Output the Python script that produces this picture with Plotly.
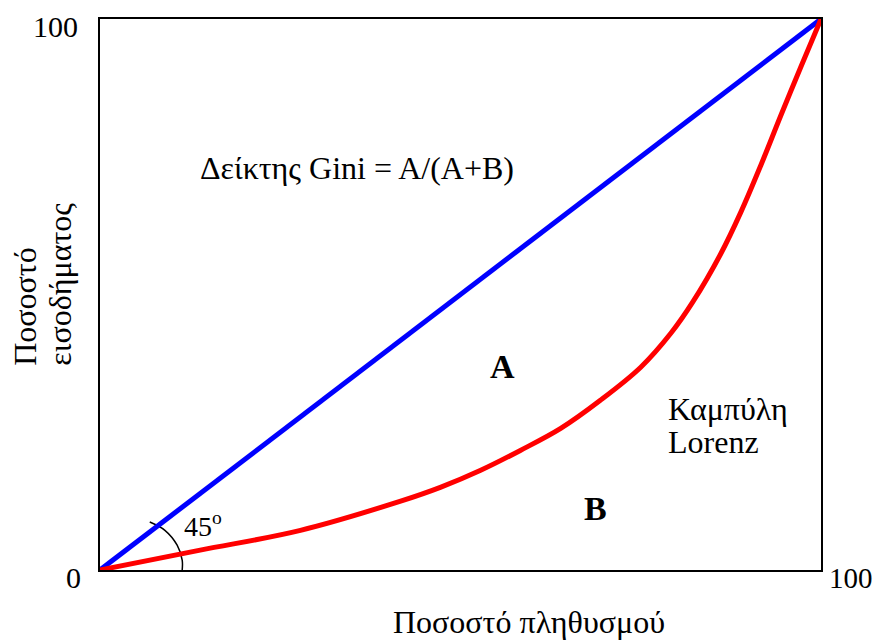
import plotly.graph_objects as go

# Lorenz curve (population %, income %)
lorenz_x = [0, 13.9, 27.8, 41.7, 47.2, 52.8, 58.3, 63.9, 69.4, 75.0, 79.2, 82.2,
            86.1, 88.9, 91.7, 94.4, 97.2, 100]
lorenz_y = [0, 3.6, 7.2, 12.5, 15.0, 18.1, 21.7, 25.7, 30.8, 36.8, 43.0, 48.6,
            57.4, 65.0, 73.6, 82.4, 91.3, 100]

# line of equality
equal_x = [0, 100]
equal_y = [0, 100]

# small arc marking the 45 degree angle
arc_x = [6.9, 9.0, 10.7, 11.4, 11.4]
arc_y = [8.7, 7.2, 4.5, 1.8, 0]

FONT = "Liberation Serif, Times New Roman, serif"

fig = go.Figure()

fig.add_trace(go.Scatter(x=arc_x, y=arc_y, mode='lines', line_shape='spline',
                         line=dict(color='black', width=1.5), hoverinfo='skip'))
fig.add_trace(go.Scatter(x=equal_x, y=equal_y, mode='lines',
                         line=dict(color='#0000FF', width=5), cliponaxis=False))
fig.add_trace(go.Scatter(x=lorenz_x, y=lorenz_y, mode='lines',
                         line=dict(color='#FF0000', width=5, shape='spline', smoothing=1.0),
                         cliponaxis=False))

def note(text, x, y, size=32, xref='x', yref='y', **kw):
    fig.add_annotation(text=text, x=x, y=y, xref=xref, yref=yref, showarrow=False,
                       font=dict(family=FONT, size=size, color='black'), **kw)

note('Δείκτης Gini = A/(A+B)', 35.7, 73)
note('<b>A</b>', 55.8, 37, size=34)
note('<b>B</b>', 68.7, 11.2, size=34)
note('Καμπύλη', 78.5, 29.3, xanchor='left')
note('Lorenz', 78.5, 23.2, xanchor='left')
note('45<sup>o</sup>', 14.3, 8.3, size=28)

# axis end labels
note('100', -0.028, 0.986, size=30, xref='paper', yref='paper', xanchor='right', yanchor='middle')
note('0', -0.024, -0.0145, size=30, xref='paper', yref='paper', xanchor='right', yanchor='middle')
note('100', 1.008, -0.0145, size=29, xref='paper', yref='paper', xanchor='left', yanchor='middle')

# axis titles
note('Ποσοστό πληθυσμού', 0.595, -0.094, xref='paper', yref='paper',
     xanchor='center', yanchor='middle')
note('Ποσοστό', -0.104, 0.367, xref='paper', yref='paper', textangle=-90,
     xanchor='center', yanchor='bottom')
note('εισοδήματος', -0.055, 0.367, xref='paper', yref='paper', textangle=-90,
     xanchor='center', yanchor='bottom')

fig.update_xaxes(range=[0, 100], showgrid=False, zeroline=False, showticklabels=False,
                 ticks='', showline=True, mirror=True, linecolor='black', linewidth=2)
fig.update_yaxes(range=[0, 100], showgrid=False, zeroline=False, showticklabels=False,
                 ticks='', showline=True, mirror=True, linecolor='black', linewidth=2)

# page body adds an 8px margin, so the figure is a little smaller than the window
fig.update_layout(width=874, height=633, showlegend=False,
                  margin=dict(l=92, r=61, t=9, b=71),
                  plot_bgcolor='white', paper_bgcolor='white',
                  font=dict(family=FONT))

fig.write_html("out.html")
